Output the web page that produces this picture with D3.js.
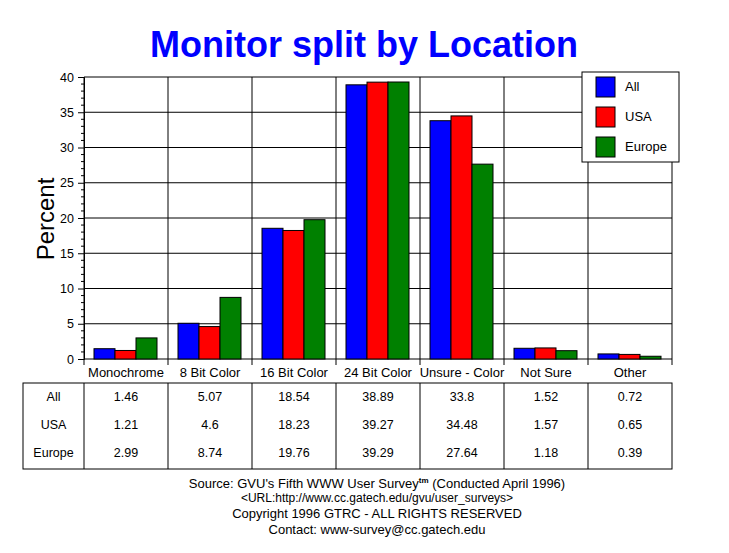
<!DOCTYPE html>
<html>
<head>
<meta charset="utf-8">
<script src="https://cdn.jsdelivr.net/npm/d3@7"></script>
<style>
  body { margin: 0; background: #fff; }
  text { font-family: Arial, "Liberation Sans", sans-serif; }
</style>
</head>
<body>
<svg id="chart" width="729" height="553"></svg>
<script>
// chart data
const categories = ['Monochrome', '8 Bit Color', '16 Bit Color', '24 Bit Color', 'Unsure - Color', 'Not Sure', 'Other'];
const seriesNames = ['All', 'USA', 'Europe'];
const seriesColors = ['#0000ff', '#ff0000', '#008000'];
const allValues = [1.46, 5.07, 18.54, 38.89, 33.8, 1.52, 0.72];
const usaValues = [1.21, 4.6, 18.23, 39.27, 34.48, 1.57, 0.65];
const europeValues = [2.99, 8.74, 19.76, 39.29, 27.64, 1.18, 0.39];
const yTicks = [0, 5, 10, 15, 20, 25, 30, 35, 40];
const footerLines = [
  "<URL:http://www.cc.gatech.edu/gvu/user_surveys>",
  "Copyright 1996 GTRC -  ALL RIGHTS RESERVED",
  "Contact: www-survey@cc.gatech.edu"
];

const series = [allValues, usaValues, europeValues];

const svg = d3.select('#chart');
const pLeft = 84, pRight = 672, pTop = 77, pBottom = 359;

const x = d3.scaleBand().domain(categories).range([pLeft, pRight]);
const xs = d3.scaleBand().domain(seriesNames).range([10, 73]);
const y = d3.scaleLinear().domain([0, 40]).range([pBottom, pTop]);

// title
svg.append('text')
  .attr('x', 364).attr('y', 57)
  .attr('text-anchor', 'middle')
  .style('font-size', '36px').style('font-weight', 'bold')
  .attr('fill', '#0000ff')
  .text('Monitor split by Location');

// horizontal gridlines
svg.append('g').selectAll('line').data(yTicks).join('line')
  .attr('x1', pLeft).attr('x2', pRight)
  .attr('y1', d => y(d)).attr('y2', d => y(d))
  .attr('stroke', '#000');

// vertical separators
const seps = categories.map(c => x(c)).concat([pRight]);
svg.append('g').selectAll('line').data(seps).join('line')
  .attr('x1', d => d).attr('x2', d => d)
  .attr('y1', pTop).attr('y2', pBottom + 6)
  .attr('stroke', '#000');

// y axis
const yAxis = d3.axisLeft(y).tickValues(yTicks).tickSize(6).tickPadding(4);
const ga = svg.append('g').attr('transform', `translate(${pLeft},0)`).call(yAxis);
ga.select('.domain').attr('stroke', '#000');
ga.selectAll('text').style('font-size', '12.5px').style('font-family', 'Arial, sans-serif').attr('fill', '#000');
// minor ticks
svg.append('g').selectAll('line').data(d3.range(0, 41).filter(v => v % 5 !== 0)).join('line')
  .attr('x1', pLeft - 3).attr('x2', pLeft)
  .attr('y1', d => y(d)).attr('y2', d => y(d))
  .attr('stroke', '#000');

svg.append('text')
  .attr('transform', 'translate(54,219) rotate(-90)')
  .attr('text-anchor', 'middle')
  .style('font-size', '24px')
  .text('Percent');

// bars
const groups = svg.append('g').selectAll('g').data(categories).join('g')
  .attr('transform', c => `translate(${x(c)},0)`);
groups.selectAll('rect')
  .data((c, i) => seriesNames.map((s, k) => ({ s, v: series[k][i], color: seriesColors[k] })))
  .join('rect')
  .attr('x', d => xs(d.s))
  .attr('width', xs.bandwidth())
  .attr('y', d => y(d.v))
  .attr('height', d => y(0) - y(d.v))
  .attr('fill', d => d.color)
  .attr('stroke', '#000');

// category labels
svg.append('g').selectAll('text').data(categories).join('text')
  .attr('x', c => x(c) + x.bandwidth() / 2)
  .attr('y', 377)
  .attr('text-anchor', 'middle')
  .style('font-size', '13px')
  .text(c => c);

// legend
const lg = svg.append('g');
lg.append('rect').attr('x', 582).attr('y', 72).attr('width', 97).attr('height', 90)
  .attr('fill', '#fff').attr('stroke', '#000');
seriesNames.forEach((s, k) => {
  lg.append('rect').attr('x', 596).attr('y', 77 + k * 30).attr('width', 19).attr('height', 20)
    .attr('fill', seriesColors[k]).attr('stroke', '#000');
  lg.append('text').attr('x', 625).attr('y', 91 + k * 30)
    .style('font-size', '13px').text(s);
});

// data table
const tTop = 383, tBot = 469, tLeft = 23;
svg.append('rect').attr('x', tLeft).attr('y', tTop).attr('width', pRight - tLeft).attr('height', tBot - tTop)
  .attr('fill', 'none').attr('stroke', '#000');
svg.append('g').selectAll('line').data(categories).join('line')
  .attr('x1', c => x(c)).attr('x2', c => x(c))
  .attr('y1', tTop).attr('y2', tBot)
  .attr('stroke', '#000');
seriesNames.forEach((s, k) => {
  const ry = 401 + k * 28;
  svg.append('text').attr('x', (tLeft + pLeft) / 2).attr('y', ry)
    .attr('text-anchor', 'middle').style('font-size', '12.5px').text(s);
  svg.append('g').selectAll('text').data(series[k]).join('text')
    .attr('x', (d, i) => x(categories[i]) + x.bandwidth() / 2)
    .attr('y', ry)
    .attr('text-anchor', 'middle')
    .style('font-size', '12.5px')
    .text(d => d);
});

// footer
const src = svg.append('text').attr('x', 377).attr('y', 488)
  .attr('text-anchor', 'middle').style('font-size', '13px');
src.append('tspan').text("Source: GVU's Fifth WWW User Survey");
src.append('tspan').attr('dy', -5).style('font-size', '8px').style('font-weight', 'bold').text('tm');
src.append('tspan').attr('dy', 5).text('  (Conducted April 1996)');
svg.append('g').selectAll('text').data(footerLines).join('text')
  .attr('x', 377)
  .attr('y', (d, i) => 502 + i * 16)
  .attr('text-anchor', 'middle')
  .style('font-size', (d, i) => i === 0 ? '12px' : '13px')
  .text(d => d);
</script>
</body>
</html>
